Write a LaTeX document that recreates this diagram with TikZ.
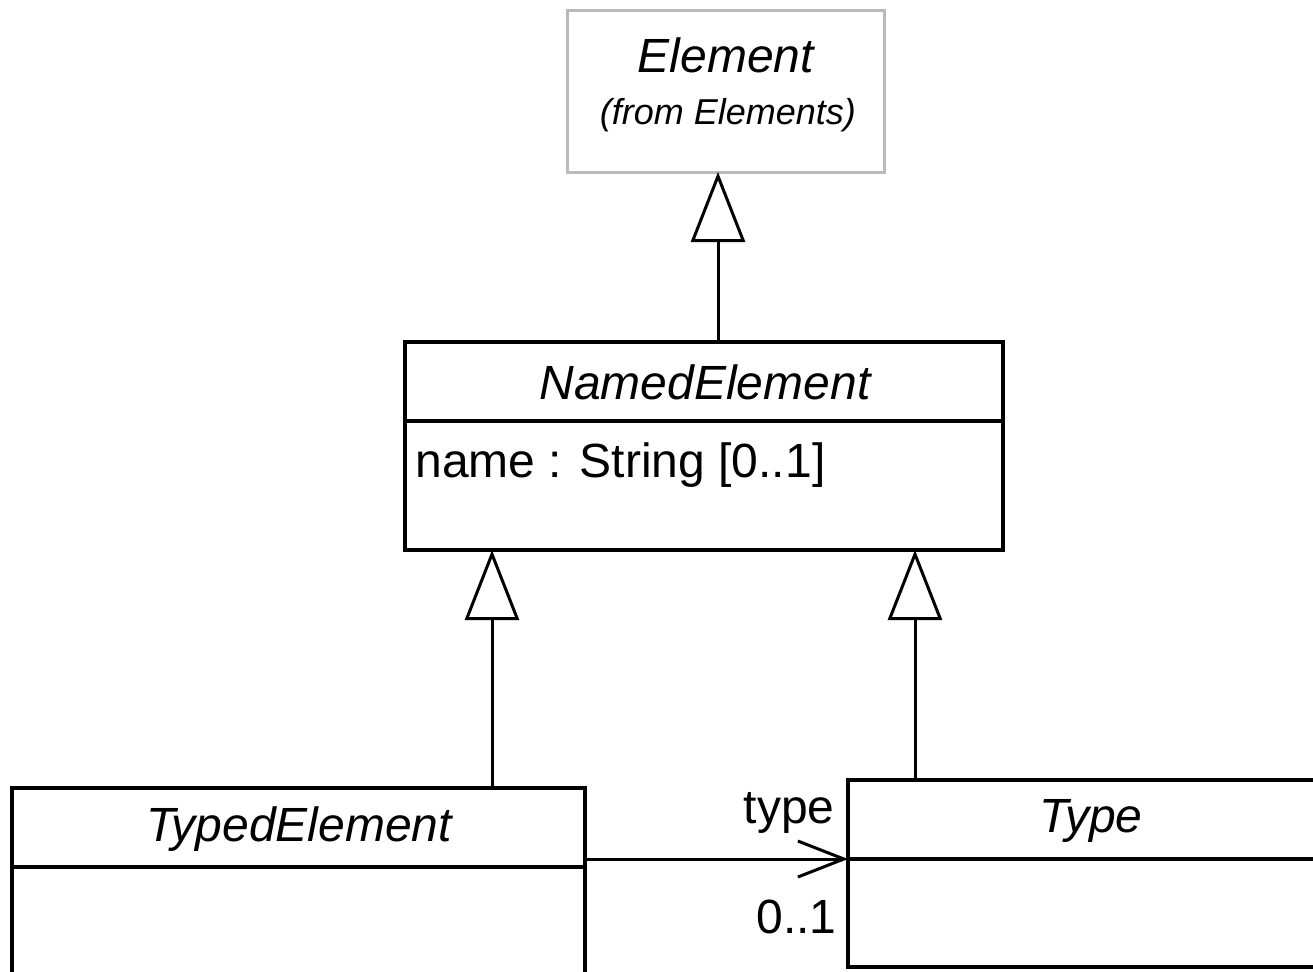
\documentclass[tikz,border=0pt]{standalone}
\usepackage{fontspec}
\setmainfont{Liberation Sans}
\usetikzlibrary{arrows.meta,calc}
\begin{document}
\begin{tikzpicture}[x=0.5pt,y=-0.5pt,
  classbox/.style={draw=black,line width=1.8pt,inner sep=0pt,outer sep=0pt,anchor=north west},
  pkgbox/.style={draw=black!27,line width=1.5pt,inner sep=0pt,outer sep=0pt,anchor=north west},
  classname/.style={font=\fontsize{24}{28}\selectfont\itshape,inner sep=0pt},
  origin/.style={font=\fontsize{18}{22}\selectfont\itshape,inner sep=0pt},
  plaintext/.style={font=\fontsize{24}{28}\selectfont,inner sep=0pt},
  divider/.style={line width=1.8pt},
  gen/.style={line width=1.5pt,-{Triangle[open,length=35pt,width=27pt,fill=white]}},
  assoc/.style={line width=1.5pt,-{Straight Barb[length=23pt,width=18pt]}}]

\useasboundingbox (0,0) rectangle (1313,971);
\clip (0,0) rectangle (1313,971);

% Element (imported from the Elements package)
\node[pkgbox,minimum width=158.5pt,minimum height=81pt] (elem) at (567,10) {};
\node[classname] (elemname) at (726,55) {Element};
\node[origin] (elemorigin) at (728,115) {(from Elements)};

% NamedElement
\node[classbox,minimum width=299pt,minimum height=104pt] (ne) at (405,342) {};
\draw[divider] ($(ne.north west)+(0,79)$) -- ($(ne.north east)+(0,79)$);
\node[classname] (nename) at (705,382) {NamedElement};
\node[plaintext,anchor=base west] (neattr) at (415,477) {name : String [0..1]};

% TypedElement
\node[classbox,minimum width=286.5pt,minimum height=120pt] (te) at (12,788) {};
\draw[divider] ($(te.north west)+(0,79)$) -- ($(te.north east)+(0,79)$);
\node[classname] (tename) at (299,829) {TypedElement};

% Type
\node[classbox,minimum width=243pt,minimum height=93.5pt] (ty) at (848,780) {};
\draw[divider] ($(ty.north west)+(0,79)$) -- ($(ty.north east)+(0,79)$);
\node[classname] (tyname) at (1091,821) {Type};

% Generalizations
\draw[gen] ($(ne.north west)+(313,0)$) -- ($(elem.south west)+(151,0)$);
\draw[gen] ($(te.north west)+(480,0)$) -- ($(ne.south west)+(87,0)$);
\draw[gen] ($(ty.north west)+(67,0)$) -- ($(ne.south west)+(510,0)$);

% Association TypedElement -> Type
\draw[assoc] ($(te.north east)+(0,71)$) -- ($(ty.north west)+(0,79)$);
\node[plaintext,anchor=base east] (rolename) at (835,823) {type};
\node[plaintext,anchor=base east] (mult) at (837,933) {0..1};
\end{tikzpicture}
\end{document}
